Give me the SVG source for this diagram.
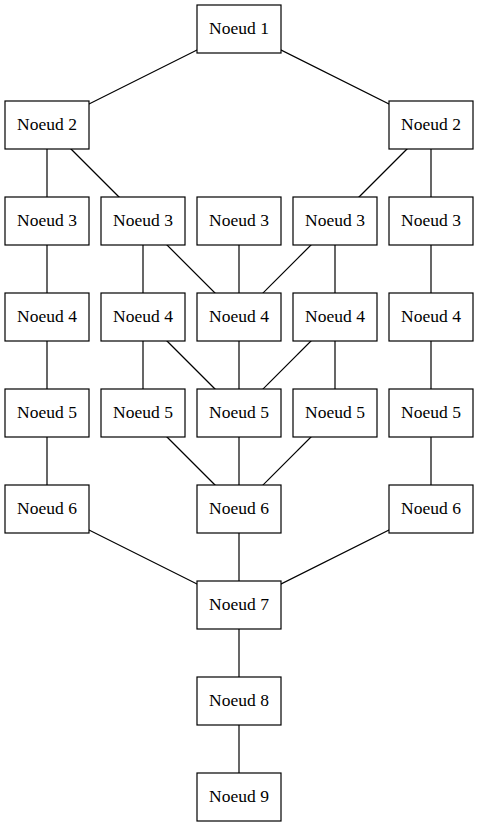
<svg xmlns="http://www.w3.org/2000/svg" width="479" height="827" viewBox="0 0 479 827">
<style>
.n rect{fill:#fff;stroke:#000;stroke-width:1.2}
.n text{font-family:"Liberation Serif","Times New Roman",serif;font-size:17.5px;text-anchor:middle;fill:#000}
.e line{stroke:#000;stroke-width:1.2}
</style>
<rect width="479" height="827" fill="#fff"/>
<g id="edges" class="e">
<line x1="239" y1="29" x2="47" y2="125"/>
<line x1="239" y1="29" x2="431" y2="125"/>
<line x1="47" y1="125" x2="47" y2="221"/>
<line x1="47" y1="125" x2="143" y2="221"/>
<line x1="431" y1="125" x2="335" y2="221"/>
<line x1="431" y1="125" x2="431" y2="221"/>
<line x1="47" y1="221" x2="47" y2="317"/>
<line x1="143" y1="221" x2="143" y2="317"/>
<line x1="143" y1="221" x2="239" y2="317"/>
<line x1="239" y1="221" x2="239" y2="317"/>
<line x1="335" y1="221" x2="239" y2="317"/>
<line x1="335" y1="221" x2="335" y2="317"/>
<line x1="431" y1="221" x2="431" y2="317"/>
<line x1="47" y1="317" x2="47" y2="413"/>
<line x1="143" y1="317" x2="143" y2="413"/>
<line x1="143" y1="317" x2="239" y2="413"/>
<line x1="239" y1="317" x2="239" y2="413"/>
<line x1="335" y1="317" x2="239" y2="413"/>
<line x1="335" y1="317" x2="335" y2="413"/>
<line x1="431" y1="317" x2="431" y2="413"/>
<line x1="47" y1="413" x2="47" y2="509"/>
<line x1="143" y1="413" x2="239" y2="509"/>
<line x1="239" y1="413" x2="239" y2="509"/>
<line x1="335" y1="413" x2="239" y2="509"/>
<line x1="431" y1="413" x2="431" y2="509"/>
<line x1="47" y1="509" x2="239" y2="605"/>
<line x1="239" y1="509" x2="239" y2="605"/>
<line x1="431" y1="509" x2="239" y2="605"/>
<line x1="239" y1="605" x2="239" y2="701"/>
<line x1="239" y1="701" x2="239" y2="797"/>
</g>
<g id="n1" class="n"><rect x="197" y="5" width="84" height="48"/><text x="239" y="33.5">Noeud 1</text></g>
<g id="n2a" class="n"><rect x="5" y="101" width="84" height="48"/><text x="47" y="129.5">Noeud 2</text></g>
<g id="n2b" class="n"><rect x="389" y="101" width="84" height="48"/><text x="431" y="129.5">Noeud 2</text></g>
<g id="n3a" class="n"><rect x="5" y="197" width="84" height="48"/><text x="47" y="225.5">Noeud 3</text></g>
<g id="n3b" class="n"><rect x="101" y="197" width="84" height="48"/><text x="143" y="225.5">Noeud 3</text></g>
<g id="n3c" class="n"><rect x="197" y="197" width="84" height="48"/><text x="239" y="225.5">Noeud 3</text></g>
<g id="n3d" class="n"><rect x="293" y="197" width="84" height="48"/><text x="335" y="225.5">Noeud 3</text></g>
<g id="n3e" class="n"><rect x="389" y="197" width="84" height="48"/><text x="431" y="225.5">Noeud 3</text></g>
<g id="n4a" class="n"><rect x="5" y="293" width="84" height="48"/><text x="47" y="321.5">Noeud 4</text></g>
<g id="n4b" class="n"><rect x="101" y="293" width="84" height="48"/><text x="143" y="321.5">Noeud 4</text></g>
<g id="n4c" class="n"><rect x="197" y="293" width="84" height="48"/><text x="239" y="321.5">Noeud 4</text></g>
<g id="n4d" class="n"><rect x="293" y="293" width="84" height="48"/><text x="335" y="321.5">Noeud 4</text></g>
<g id="n4e" class="n"><rect x="389" y="293" width="84" height="48"/><text x="431" y="321.5">Noeud 4</text></g>
<g id="n5a" class="n"><rect x="5" y="389" width="84" height="48"/><text x="47" y="417.5">Noeud 5</text></g>
<g id="n5b" class="n"><rect x="101" y="389" width="84" height="48"/><text x="143" y="417.5">Noeud 5</text></g>
<g id="n5c" class="n"><rect x="197" y="389" width="84" height="48"/><text x="239" y="417.5">Noeud 5</text></g>
<g id="n5d" class="n"><rect x="293" y="389" width="84" height="48"/><text x="335" y="417.5">Noeud 5</text></g>
<g id="n5e" class="n"><rect x="389" y="389" width="84" height="48"/><text x="431" y="417.5">Noeud 5</text></g>
<g id="n6a" class="n"><rect x="5" y="485" width="84" height="48"/><text x="47" y="513.5">Noeud 6</text></g>
<g id="n6b" class="n"><rect x="197" y="485" width="84" height="48"/><text x="239" y="513.5">Noeud 6</text></g>
<g id="n6c" class="n"><rect x="389" y="485" width="84" height="48"/><text x="431" y="513.5">Noeud 6</text></g>
<g id="n7" class="n"><rect x="197" y="581" width="84" height="48"/><text x="239" y="609.5">Noeud 7</text></g>
<g id="n8" class="n"><rect x="197" y="677" width="84" height="48"/><text x="239" y="705.5">Noeud 8</text></g>
<g id="n9" class="n"><rect x="197" y="773" width="84" height="48"/><text x="239" y="801.5">Noeud 9</text></g>
</svg>
